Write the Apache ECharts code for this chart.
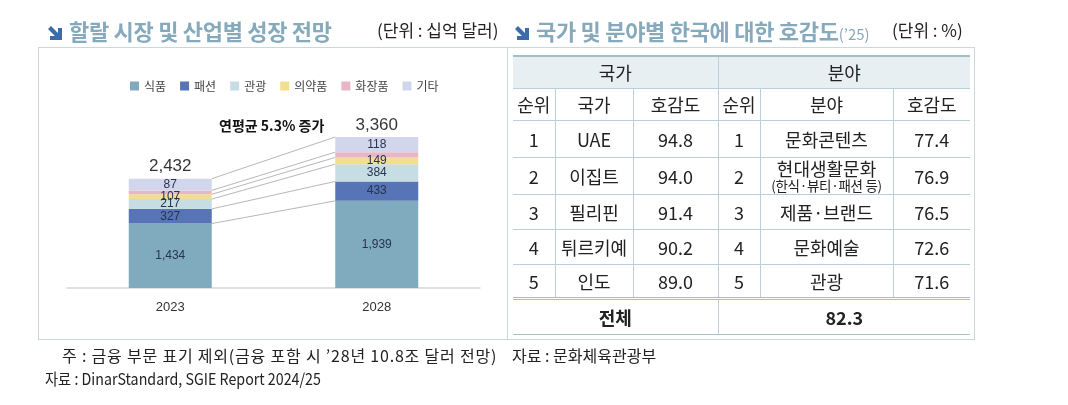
<!DOCTYPE html>
<html>
<head>
<meta charset="utf-8">
<script src="https://cdn.jsdelivr.net/npm/echarts@6/dist/echarts.min.js"></script>
<style>
  body { margin: 0; background: #fff; font-family: "Noto Sans CJK KR", "Noto Sans", sans-serif; }
  #wrap { position: relative; width: 1068px; height: 405px; overflow: hidden; }
  #chart { position: absolute; left: 0; top: 0; width: 1068px; height: 405px; }
  .box { position: absolute; border: 1px solid #c9d8de; box-sizing: border-box; }
  .title { position: absolute; font-weight: bold; font-size: 22px; color: #86aabc; white-space: nowrap; line-height: 26px; letter-spacing: -0.3px; }
  .title small { font-size: 15px; font-weight: normal; letter-spacing: 0; }
  .unit { position: absolute; font-size: 17px; color: #222; white-space: nowrap; line-height: 24px; }
  .arrow { display: inline-block; vertical-align: -1px; margin-right: 6px; }
  .note { position: absolute; font-size: 16px; color: #222; white-space: nowrap; line-height: 20px; transform-origin: 0 50%; }
  #tbl { position: absolute; left: 513px; top: 55px; width: 457px; border-collapse: collapse; table-layout: fixed; }
  #tbl td { text-align: center; font-size: 18px; color: #222; padding: 0; border: 1px solid #bccfd7; line-height: 20px; white-space: nowrap; }
  #tbl tr td:first-child { border-left: none; }
  #tbl tr td:last-child { border-right: none; }
  #tbl tr.h1 td { background: #e7eff3; border-top: 2px solid #a3bfcb; }
  #tbl tr.tot td { border-top: 3px double #a3bfcb; font-weight: bold; border-bottom: 1px solid #a9c0ca; }
  #tbl td .sub { display: block; font-size: 13.5px; line-height: 14px; letter-spacing: -0.3px; }
</style>
</head>
<body>
<div id="wrap">
  <div class="box" style="left:38px;top:47px;width:470px;height:293px;"></div>
  <div class="box" style="left:507px;top:47px;width:468px;height:293px;"></div>
  <div id="chart"></div>

  <div class="title" style="left:47px;top:17px;">
    <svg class="arrow" width="16" height="16" viewBox="0 0 16 16"><path d="M1 4 L4 1 L11 8 L11 3 L15 3 L15 15 L3 15 L3 11 L8 11 Z" fill="#3d6aa8"/></svg>할랄 시장 및 산업별 성장 전망</div>
  <div class="unit" style="left:377px;top:18px;">(단위 : 십억 달러)</div>

  <div class="title" style="left:514px;top:17px;">
    <svg class="arrow" width="16" height="16" viewBox="0 0 16 16"><path d="M1 4 L4 1 L11 8 L11 3 L15 3 L15 15 L3 15 L3 11 L8 11 Z" fill="#3d6aa8"/></svg>국가 및 분야별 한국에 대한 호감도<small>(’25)</small></div>
  <div class="unit" style="left:892px;top:18px;">(단위 : %)</div>

  <table id="tbl"></table>

  <div class="note" style="left:62px;top:345px;letter-spacing:0.8px;">주 : 금융 부문 표기 제외(금융 포함 시 ’28년 10.8조 달러 전망)</div>
  <div class="note" style="left:512px;top:345px;">자료 : 문화체육관광부</div>
  <div class="note" style="left:45px;top:368px;transform:scaleX(0.89);">자료 : DinarStandard, SGIE Report 2024/25</div>
</div>

<script>
// 할랄 시장 (십억 달러)
var years = ['2023', '2028'];
var food = [1434, 1939];
var fashion = [327, 433];
var tourism = [217, 384];
var pharma = [107, 149];
var cosmetics = [87, 118];
var others = [260, 337];
var totals = [2432, 3360];

// 호감도 표
var countryRank = [1, 2, 3, 4, 5];
var countryNames = ['UAE', '이집트', '필리핀', '튀르키예', '인도'];
var countryScores = ['94.8', '94.0', '91.4', '90.2', '89.0'];
var fieldRank = [1, 2, 3, 4, 5];
var fieldNames = ['문화콘텐츠', '현대생활문화', '제품·브랜드', '문화예술', '관광'];
var fieldSubs = ['', '(한식·뷰티·패션 등)', '', '', ''];
var fieldScores = ['77.4', '76.9', '76.5', '72.6', '71.6'];
var totalScore = '82.3';

// table
var rowHeights = [37, 37, 35, 35, 34];
var html = '<colgroup><col style="width:42px"><col style="width:78px"><col style="width:85px">' +
  '<col style="width:42px"><col style="width:133px"><col style="width:77px"></colgroup>';
html += '<tr class="h1" style="height:32px"><td colspan="3" style="border-right:1px solid #bccfd7">국가</td><td colspan="3">분야</td></tr>';
html += '<tr style="height:32px"><td>순위</td><td>국가</td><td>호감도</td><td>순위</td><td>분야</td><td>호감도</td></tr>';
for (var i = 0; i < countryNames.length; i++) {
  var f = fieldNames[i];
  if (fieldSubs[i]) f = '<span style="display:block;line-height:19px">' + f + '</span><span class="sub">' + fieldSubs[i] + '</span>';
  html += '<tr style="height:' + rowHeights[i] + 'px"><td>' + countryRank[i] + '</td><td>' + countryNames[i] + '</td><td>' +
    countryScores[i] + '</td><td>' + fieldRank[i] + '</td><td>' + f + '</td><td>' + fieldScores[i] + '</td></tr>';
}
html += '<tr class="tot" style="height:36px"><td colspan="3">전체</td><td colspan="3">' + totalScore + '</td></tr>';
document.getElementById('tbl').innerHTML = html;

// chart
var chartDom = document.getElementById('chart');
var myChart = echarts.init(chartDom);

var names = ['식품', '패션', '관광', '의약품', '화장품', '기타'];
var colors = ['#80aabe', '#5674b6', '#c7dde4', '#f1de8e', '#e9b6c6', '#d2d6ec'];
var stacks = [food, fashion, tourism, pharma, cosmetics, others];

// cumulative tops for connecting lines
var lineData = [];
var c0 = 0, c1 = 0;
for (var k = 0; k < stacks.length; k++) {
  c0 += stacks[k][0];
  c1 += stacks[k][1];
  lineData.push([0, c0, c1]);
}

var BAR_W = 83;
var labelFont = { color: '#26344f', fontSize: 12, fontFamily: 'Liberation Sans, Arial, sans-serif' };

var series = stacks.map(function (arr, idx) {
  var lbl = Object.assign({ show: true, position: 'inside' }, labelFont);
  if (idx === 4) lbl.show = false;
  if (idx === 5) {
    // the cosmetics figure is printed in the top band
    lbl.formatter = function (p) { return cosmetics[p.dataIndex]; };
  }
  if (idx === 0) lbl.formatter = function (p) { return p.value.toLocaleString('en-US'); };
  return {
    name: names[idx],
    type: 'bar',
    stack: 'total',
    barWidth: BAR_W,
    itemStyle: { color: colors[idx] },
    label: lbl,
    data: arr
  };
});

series.push({
  type: 'custom',
  coordinateSystem: 'cartesian2d',
  encode: { x: 0, y: 1 },
  silent: true,
  z: 1,
  renderItem: function (params, api) {
    var p1 = api.coord([0, api.value(1)]);
    var p2 = api.coord([1, api.value(2)]);
    return {
      type: 'line',
      shape: { x1: p1[0] + BAR_W / 2, y1: p1[1], x2: p2[0] - BAR_W / 2, y2: p2[1] },
      style: { stroke: '#a5a5a5', lineWidth: 0.8 }
    };
  },
  data: lineData
});

series.push({
  type: 'scatter',
  symbolSize: 1,
  itemStyle: { color: 'rgba(0,0,0,0)' },
  silent: true,
  label: {
    show: true,
    position: 'top',
    distance: 3,
    color: '#000',
    fontSize: 17,
    fontFamily: 'Liberation Sans, Arial, sans-serif',
    formatter: function (p) { return p.value[1].toLocaleString('en-US'); }
  },
  data: totals.map(function (v, i) { return [i, v]; })
});

var option = {
  animation: false,
  color: colors,
  legend: {
    data: names,
    left: 125,
    top: 75,
    itemWidth: 9,
    itemHeight: 9,
    itemGap: 14,
    icon: 'rect',
    textStyle: { color: '#444', fontSize: 12, fontFamily: 'Noto Sans CJK KR' }
  },
  grid: { left: 67, right: 588, top: 137, bottom: 117 },
  xAxis: {
    type: 'category',
    data: years,
    axisLine: { lineStyle: { color: '#d6d6d6', width: 1.5 } },
    axisTick: { show: false },
    axisLabel: { color: '#333', fontSize: 13, margin: 13, fontFamily: 'Liberation Sans, Arial, sans-serif' }
  },
  yAxis: {
    type: 'value',
    min: 0,
    max: 3360,
    show: false,
    splitLine: { show: false }
  },
  graphic: [{
    type: 'text',
    left: 219,
    top: 119,
    style: { text: '연평균 5.3% 증가', fill: '#111', font: 'bold 14px "Noto Sans CJK KR"' }
  }],
  series: series
};

option && myChart.setOption(option);
</script>
</body>
</html>
